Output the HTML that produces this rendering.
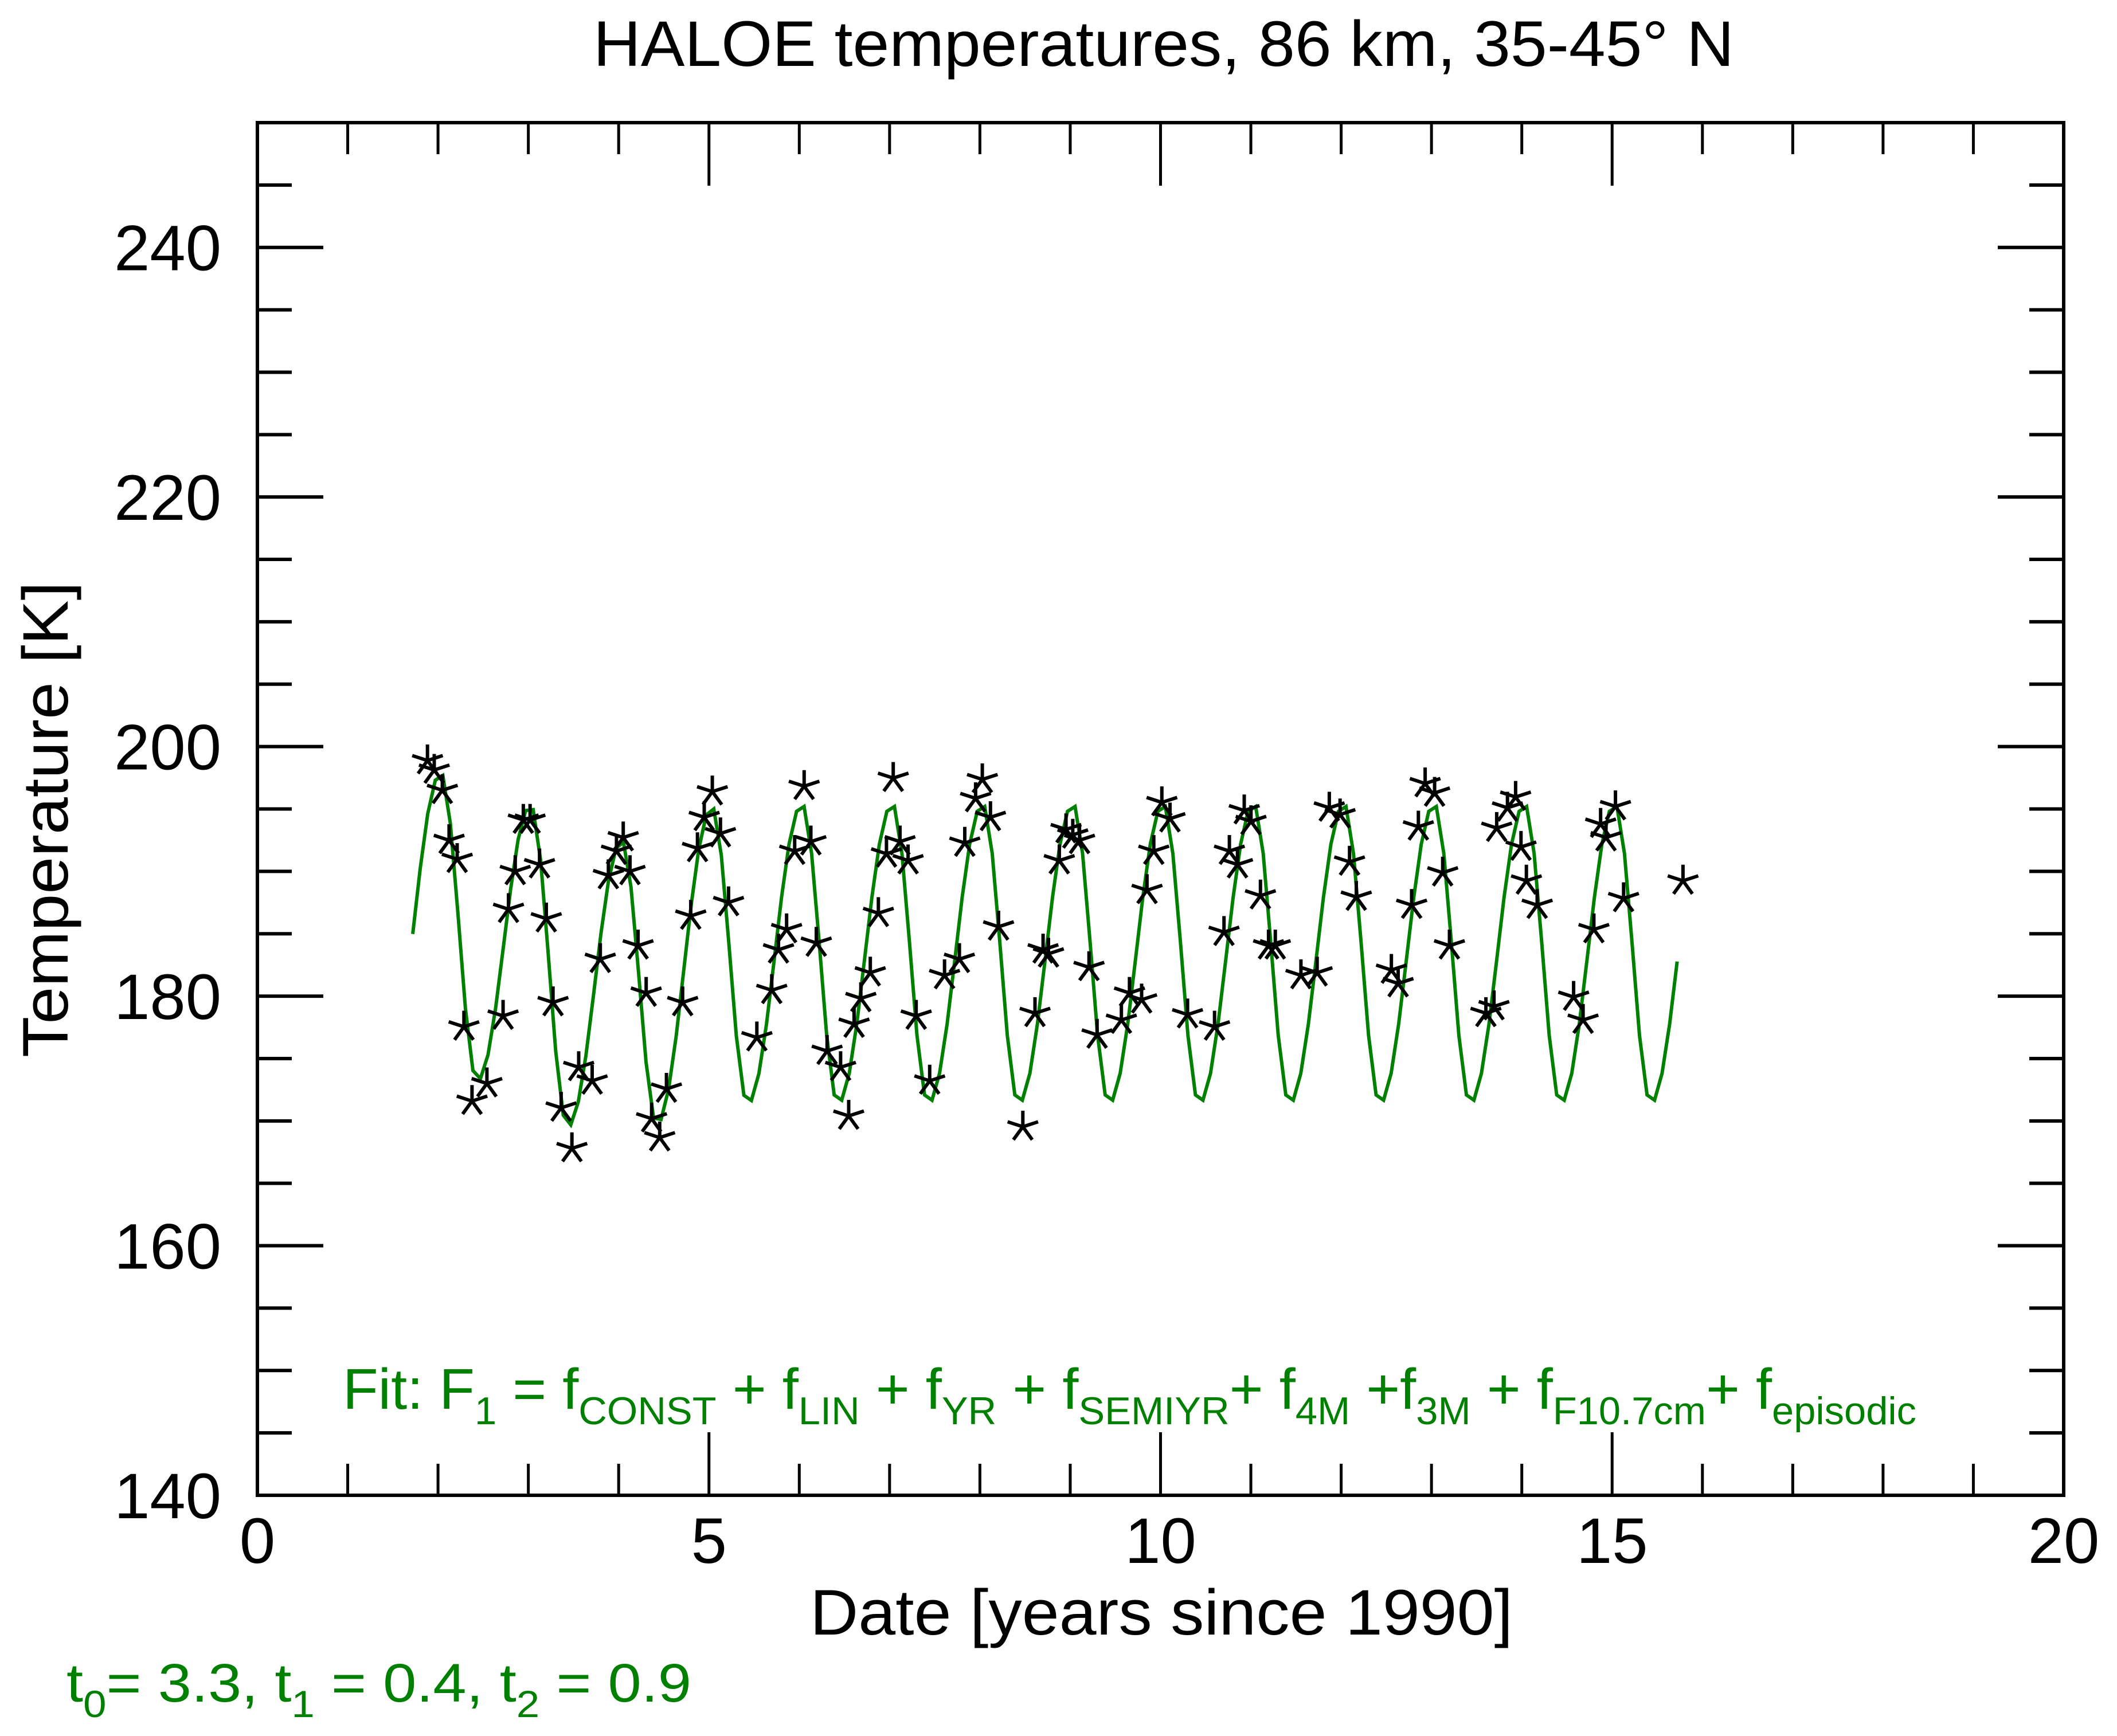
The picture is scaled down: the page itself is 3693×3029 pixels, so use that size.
<!DOCTYPE html>
<html><head><meta charset="utf-8"><style>
html,body{margin:0;padding:0;background:#fff;}
svg{display:block;}
text{font-family:"Liberation Sans",sans-serif;}
</style></head><body>
<svg id="s" width="3693" height="3029" viewBox="0 0 3693 3029" xmlns="http://www.w3.org/2000/svg">
<rect width="3693" height="3029" fill="#fff"/>
<text x="2030" y="115" font-size="112" text-anchor="middle" textLength="1990" lengthAdjust="spacingAndGlyphs">HALOE temperatures, 86 km, 35-45° N</text>
<g id="ax" stroke="#000" fill="none"></g>
<g id="lab" font-size="112" fill="#000"></g>
<text x="2026" y="2852" font-size="112" text-anchor="middle" textLength="1226" lengthAdjust="spacingAndGlyphs">Date [years since 1990]</text>
<text transform="translate(118,1430) rotate(-90)" font-size="112" text-anchor="middle" textLength="830" lengthAdjust="spacingAndGlyphs">Temperature [K]</text>
<g id="data"></g>
<text x="598" y="2458" font-size="100" fill="#008000" textLength="2745" lengthAdjust="spacingAndGlyphs">Fit: F<tspan font-size="68" dy="27">1</tspan><tspan dy="-27"> = f</tspan><tspan font-size="68" dy="27">CONST</tspan><tspan dy="-27"> + f</tspan><tspan font-size="68" dy="27">LIN</tspan><tspan dy="-27"> + f</tspan><tspan font-size="68" dy="27">YR</tspan><tspan dy="-27"> + f</tspan><tspan font-size="68" dy="27">SEMIYR</tspan><tspan dy="-27">+ f</tspan><tspan font-size="68" dy="27">4M</tspan><tspan dy="-27"> +f</tspan><tspan font-size="68" dy="27">3M</tspan><tspan dy="-27"> + f</tspan><tspan font-size="68" dy="27">F10.7cm</tspan><tspan dy="-27">+ f</tspan><tspan font-size="68" dy="27">episodic</tspan></text>
<text x="116" y="2969" font-size="95" fill="#008000" textLength="1090" lengthAdjust="spacingAndGlyphs">t<tspan font-size="66" dy="27">0</tspan><tspan dy="-27">= 3.3, t</tspan><tspan font-size="66" dy="27">1</tspan><tspan dy="-27"> = 0.4, t</tspan><tspan font-size="66" dy="27">2</tspan><tspan dy="-27"> = 0.9</tspan></text>
</svg>
<script>
var NS="http://www.w3.org/2000/svg";
var X0=449,X1=3600,Y0=2609,Y1=214;
function px(v){return X0+(X1-X0)*v/20;}
function py(v){return Y0-(Y0-Y1)*(v-140)/110;}
function el(n,a,p){var e=document.createElementNS(NS,n);for(var k in a)e.setAttribute(k,a[k]);p.appendChild(e);return e;}
var ax=document.getElementById('ax'),lab=document.getElementById('lab'),dg=document.getElementById('data');
el('rect',{x:X0,y:Y1,width:X1-X0,height:Y0-Y1,'stroke-width':6},ax);
for(var i=1;i<20;i++){var x=px(i),L=(i%5==0)?110:55;
 el('line',{x1:x,y1:Y0,x2:x,y2:Y0-L,'stroke-width':5},ax);
 el('line',{x1:x,y1:Y1,x2:x,y2:Y1+L,'stroke-width':5},ax);}
for(var v=145;v<250;v+=5){var y=py(v),L=(v%20==0)?115:60;
 el('line',{x1:X0,y1:y,x2:X0+L,y2:y,'stroke-width':6},ax);
 el('line',{x1:X1,y1:y,x2:X1-L,y2:y,'stroke-width':6},ax);}
for(var v=140;v<=240;v+=20){var t=el('text',{x:386,y:py(v)+40,'text-anchor':'end'},lab);t.textContent=v;}
for(var i=0;i<=20;i+=5){var t=el('text',{x:px(i),y:2727,'text-anchor':'middle'},lab);t.textContent=i;}
function T(t){var ph=t-0.03;ph=ph-Math.floor(ph);var A=12,m=183.4,b;
 if(ph<0.4)b=m+A*Math.cos(Math.PI*ph/0.4);else b=m-A*Math.cos(Math.PI*(ph-0.4)/0.6);
 b+=2.5*Math.exp(-Math.pow((t-2)/0.8,2))-3*Math.exp(-Math.pow((t-3.9)/0.7,2));return b;}
var d='';for(var t=1.72;t<=15.8;t+=1/12){d+=(d?'L':'M')+px(t).toFixed(1)+','+py(T(t)).toFixed(1);}
el('path',{d:d,stroke:'#008000','stroke-width':6,fill:'none'},dg);
var S=[[316,563],[321,570],[327,585],[332,622],[338,636],[343,760],[349,815],[360,802],[372,752],[376,673],[381,645],[387,607],[392,607],[399,640],[404,680],[409,742],[415,820],[423,850],[428,790],[438,800],[444,710],[450,648],[456,630],[461,620],[466,645],[472,700],[478,735],[482,828],[488,842],[493,806],[505,742],[511,678],[516,628],[521,605],[527,586],[533,617],[539,668],[560,768],[571,733],[576,703],[582,688],[588,630],[595,582],[600,623],[604,698],[612,778],[622,790],[628,826],[632,758],[637,739],[644,720],[650,676],[656,632],[661,576],[666,623],[672,637],[678,752],[688,800],[699,722],[710,710],[714,624],[722,591],[727,577],[733,605],[739,686],[757,834],[766,750],[772,703],[776,706],[784,637],[789,614],[794,618],[799,622],[806,716],[812,766],[830,755],[836,735],[845,740],[849,659],[854,630],[860,594],[866,606],[879,751],[899,760],[906,690],[910,630],[916,640],[921,600],[926,608],[933,663],[939,700],[944,700],[963,722],[975,720],[984,598],[992,603],[999,638],[1004,664],[1030,718],[1035,728],[1045,670],[1050,612],[1055,580],[1062,587],[1068,646],[1073,700],[1100,750],[1106,745],[1108,613],[1116,598],[1122,590],[1126,627],[1130,652],[1138,670],[1165,738],[1172,755],[1180,688],[1185,610],[1189,620],[1196,597],[1202,665],[1246,652]];
var sd='';var R=28;
S.forEach(function(p){var cx=449+(p[0]-190)*2.355,cy=214+(p[1]-91)*2.358;
 for(var k=0;k<5;k++){var a=(90+72*k)*Math.PI/180;sd+='M'+cx.toFixed(1)+','+cy.toFixed(1)+'L'+(cx+R*Math.cos(a)).toFixed(1)+','+(cy-R*Math.sin(a)).toFixed(1);}});
el('path',{d:sd,stroke:'#000','stroke-width':6,fill:'none'},dg);
</script>
</body></html>
